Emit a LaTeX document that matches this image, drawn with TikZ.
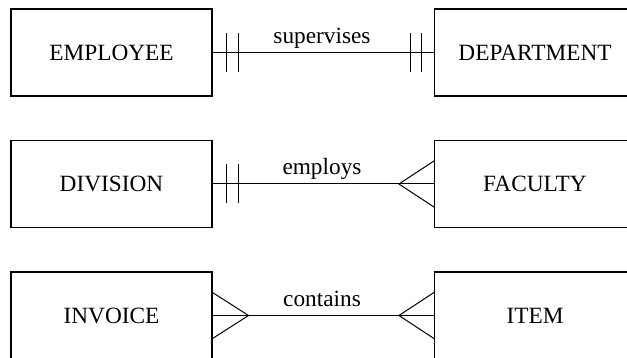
\documentclass[tikz,border=0pt]{standalone}
\usepackage{fontspec}
\setmainfont{Liberation Serif}
\begin{document}
\begin{tikzpicture}[x=1pt,y=-1pt,
  entity/.style={draw, line width=1.1pt, minimum width=201pt, minimum height=87pt,
    inner sep=0pt, font=\fontsize{23.3}{28}\selectfont},
  rel/.style={line width=1pt},
  rellabel/.style={font=\fontsize{23.3}{28}\selectfont, inner sep=0pt, anchor=base}]
\useasboundingbox (0,0) rectangle (627,358);
\clip (0,0) rectangle (627,358);

% entities
\node[entity] (emp)  at (111.5, 52.5) {EMPLOYEE};
\node[entity] (dept) at (535,   52.5) {DEPARTMENT};
\node[entity] (div)  at (111.5, 184)  {DIVISION};
\node[entity] (fac)  at (535,   184)  {FACULTY};
\node[entity] (inv)  at (111.5, 315.5){INVOICE};
\node[entity] (item) at (535,   315.5){ITEM};

% supervises: one to one
\draw[rel] (emp.east) -- (dept.west);
\node[rellabel] (lsup) at (322, 44) {supervises};
\draw[rel] ([xshift=14pt,yshift=-19.5pt]emp.east) -- ([xshift=14pt,yshift=19.5pt]emp.east);
\draw[rel] ([xshift=26pt,yshift=-19.5pt]emp.east) -- ([xshift=26pt,yshift=19.5pt]emp.east);
\draw[rel] ([xshift=-12pt,yshift=-19.5pt]dept.west) -- ([xshift=-12pt,yshift=19.5pt]dept.west);
\draw[rel] ([xshift=-23pt,yshift=-19.5pt]dept.west) -- ([xshift=-23pt,yshift=19.5pt]dept.west);

% employs: one to many
\draw[rel] (div.east) -- (fac.west);
\node[rellabel] (lemp) at (322, 175) {employs};
\draw[rel] ([xshift=14pt,yshift=-19.5pt]div.east) -- ([xshift=14pt,yshift=19.5pt]div.east);
\draw[rel] ([xshift=26pt,yshift=-19.5pt]div.east) -- ([xshift=26pt,yshift=19.5pt]div.east);
\draw[rel] ([yshift=-23pt]fac.west) -- ([xshift=-35pt]fac.west) -- ([yshift=23pt]fac.west);

% contains: many to many
\draw[rel] (inv.east) -- (item.west);
\node[rellabel] (lcon) at (322, 307) {contains};
\draw[rel] ([yshift=-23pt]inv.east) -- ([xshift=36pt]inv.east) -- ([yshift=23pt]inv.east);
\draw[rel] ([yshift=-23pt]item.west) -- ([xshift=-35pt]item.west) -- ([yshift=23pt]item.west);
\end{tikzpicture}
\end{document}
